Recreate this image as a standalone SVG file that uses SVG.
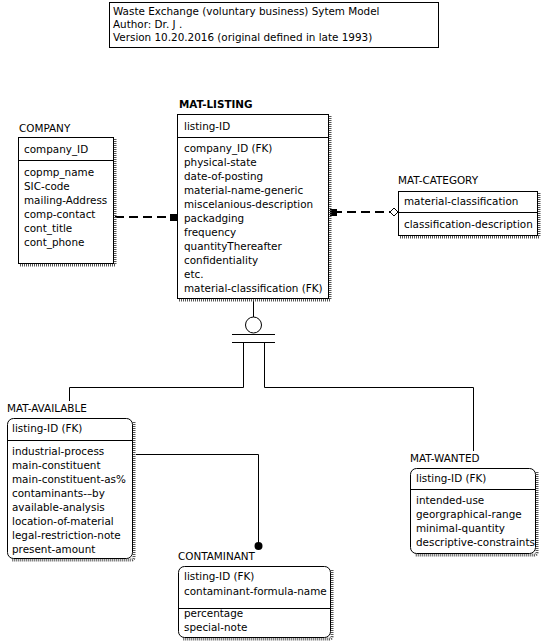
<svg xmlns="http://www.w3.org/2000/svg" width="543" height="643" viewBox="0 0 543 643">
<style>
text{font-family:"DejaVu Sans","Liberation Sans",sans-serif;font-size:10.4px;fill:#000}
.b{font-weight:bold}
.box{fill:#fff;stroke:#000;stroke-width:1}
.sep{stroke:#000;stroke-width:1}
.sh{fill:none;stroke:#555;stroke-width:3;stroke-dasharray:1,1}
.ln{fill:none;stroke:#000;stroke-width:1}
.dash{fill:none;stroke:#000;stroke-width:2;stroke-dasharray:9,5}
</style>
<rect width="543" height="643" fill="#fff"/>
<g id="title">
<rect class="box" x="109.5" y="2.5" width="329" height="45"/>
<text x="113" y="15">Waste Exchange (voluntary business) Sytem Model</text>
<text x="113" y="28">Author: Dr. J .</text>
<text x="113" y="41">Version 10.20.2016 (original defined in late 1993)</text>
</g>
<g id="connectors">
<line class="dash" x1="115" y1="217" x2="171" y2="217"/>
<rect x="170" y="214" width="7" height="7" fill="#000"/>
<line class="dash" x1="333" y1="212" x2="391" y2="212"/>
<rect x="330" y="209" width="7" height="7" fill="#000"/>
<path d="M390,212 L394,208 L398,212 L394,216 Z" fill="#fff" stroke="#000"/>
<line class="ln" x1="253.5" y1="299" x2="253.5" y2="317"/>
<circle cx="253.5" cy="325" r="8" fill="#fff" stroke="#000"/>
<line class="ln" x1="232" y1="334.5" x2="275" y2="334.5"/>
<line class="ln" x1="232" y1="342.5" x2="275" y2="342.5"/>
<path class="ln" d="M243.5,342 V387.5 H69.5 V401"/>
<path class="ln" d="M264.5,342 V387.5 H473.5 V451"/>
<path class="ln" d="M136,454.5 H258.5 V545"/>
<circle cx="258.5" cy="546" r="4" fill="#000"/>
</g>
<g id="company">
<text x="19" y="132">COMPANY</text>
<path class="sh" d="M115,139 V265 H20"/>
<rect class="box" x="18.5" y="137.5" width="95" height="126"/>
<line class="sep" x1="18.5" y1="160.5" x2="113.5" y2="160.5"/>
<text x="24" y="153">company_ID</text>
<text x="24" y="176">copmp_name</text>
<text x="24" y="190">SIC-code</text>
<text x="24" y="204">mailing-Address</text>
<text x="24" y="218">comp-contact</text>
<text x="24" y="232">cont_title</text>
<text x="24" y="246">cont_phone</text>
</g>
<g id="mat-listing">
<text class="b" x="179" y="108">MAT-LISTING</text>
<path class="sh" d="M330,116 V300 H179"/>
<rect class="box" x="177.5" y="114.5" width="151" height="184"/>
<line class="sep" x1="177.5" y1="137.5" x2="328.5" y2="137.5"/>
<text x="184" y="130">listing-ID</text>
<text x="184" y="152">company_ID (FK)</text>
<text x="184" y="166">physical-state</text>
<text x="184" y="180">date-of-posting</text>
<text x="184" y="194">material-name-generic</text>
<text x="184" y="208">miscelanious-description</text>
<text x="184" y="222">packadging</text>
<text x="184" y="236">frequency</text>
<text x="184" y="250">quantityThereafter</text>
<text x="184" y="264">confidentiality</text>
<text x="184" y="278">etc.</text>
<text x="184" y="292">material-classification (FK)</text>
</g>
<g id="mat-category">
<text x="398" y="184">MAT-CATEGORY</text>
<path class="sh" d="M539,193 V237 H400"/>
<rect class="box" x="398.5" y="191.5" width="139" height="44"/>
<line class="sep" x1="398.5" y1="212.5" x2="537.5" y2="212.5"/>
<text x="404" y="205">material-classification</text>
<text x="404" y="228">classification-description</text>
</g>
<g id="mat-available">
<text x="7" y="412">MAT-AVAILABLE</text>
<path class="sh" d="M134,422 V557 Q134,560 131,560 H12"/>
<rect class="box" x="7.5" y="418.5" width="125" height="140" rx="6"/>
<line class="sep" x1="7.5" y1="440.5" x2="132.5" y2="440.5"/>
<text x="12" y="432">listing-ID (FK)</text>
<text x="12" y="455">industrial-process</text>
<text x="12" y="469">main-constituent</text>
<text x="12" y="483">main-constituent-as%</text>
<text x="12" y="497">contaminants-–by</text>
<text x="12" y="511">available-analysis</text>
<text x="12" y="525">location-of-material</text>
<text x="12" y="539">legal-restriction-note</text>
<text x="12" y="553">present-amount</text>
</g>
<g id="mat-wanted">
<text x="410" y="462">MAT-WANTED</text>
<path class="sh" d="M537,472 V552 Q537,555 534,555 H415"/>
<rect class="box" x="410.5" y="468.5" width="125" height="85" rx="6"/>
<line class="sep" x1="410.5" y1="489.5" x2="535.5" y2="489.5"/>
<text x="416" y="482">listing-ID (FK)</text>
<text x="416" y="504">intended-use</text>
<text x="416" y="518">georgraphical-range</text>
<text x="416" y="532">minimal-quantity</text>
<text x="416" y="546">descriptive-constraints</text>
</g>
<g id="contaminant">
<text x="178" y="560">CONTAMINANT</text>
<path class="sh" d="M332,570 V636 Q332,639 329,639 H183"/>
<rect class="box" x="178.5" y="566.5" width="152" height="71" rx="6"/>
<line class="sep" x1="178.5" y1="608.5" x2="330.5" y2="608.5"/>
<text x="184" y="580">listing-ID (FK)</text>
<text x="184" y="595">contaminant-formula-name</text>
<text x="184" y="617">percentage</text>
<text x="184" y="631">special-note</text>
</g>
</svg>
